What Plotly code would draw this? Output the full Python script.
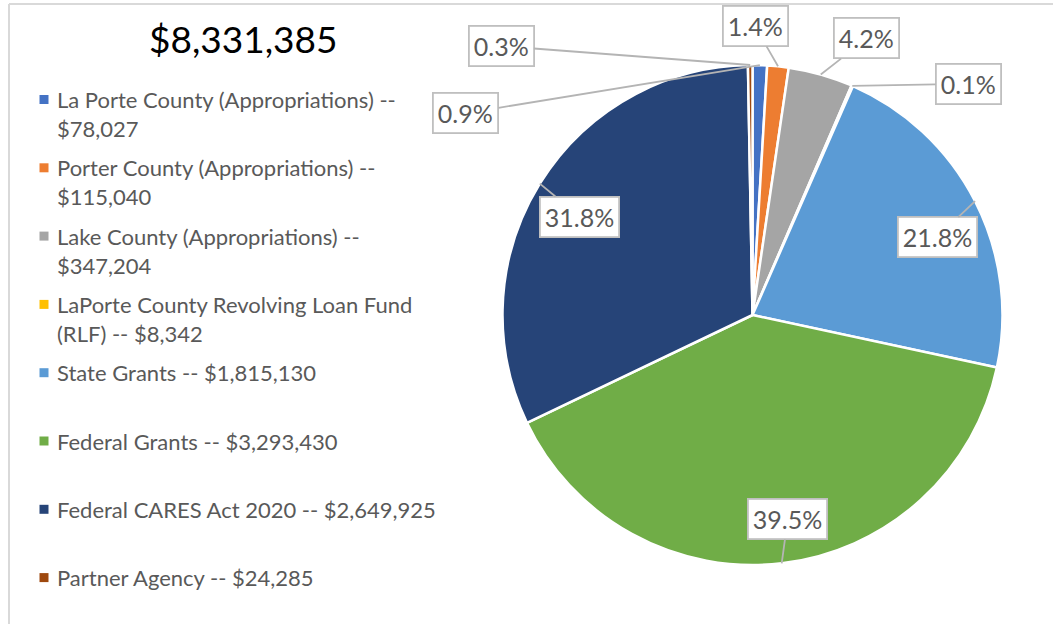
import math
import plotly.graph_objects as go

# ---------------- data ----------------
categories = [
    "La Porte County (Appropriations)",
    "Porter County (Appropriations)",
    "Lake County (Appropriations)",
    "LaPorte County Revolving Loan Fund (RLF)",
    "State Grants",
    "Federal Grants",
    "Federal CARES Act 2020",
    "Partner Agency",
]
values = [78027, 115040, 347204, 8342, 1815130, 3293430, 2649925, 24285]
legend_labels = [
    "La Porte County (Appropriations) --<br>$78,027",
    "Porter County (Appropriations) --<br>$115,040",
    "Lake County (Appropriations) --<br>$347,204",
    "LaPorte County Revolving Loan Fund<br>(RLF) -- $8,342",
    "State Grants -- $1,815,130",
    "Federal Grants -- $3,293,430",
    "Federal CARES Act 2020 -- $2,649,925",
    "Partner Agency -- $24,285",
]
title_text = "$8,331,385"

# ---------------- style ----------------
colors = ["#4472C4", "#ED7D31", "#A5A5A5", "#FFC000",
          "#5B9BD5", "#70AD47", "#264478", "#9E480E"]
# pixel offsets of each percentage box from its slice anchor point
label_offsets = [(-294, 48), (-23, -40), (46, -36), (116, -2),
                 (-38, 36), (6, -44), (40, 33), (-249, -19)]

W, H = 1053, 624
CX, CY, R = 752.5, 315.0, 250.0   # pie centre / radius in px
TXT = "#595959"
FONT = "Lato"

fig = go.Figure()
fig.add_trace(go.Pie(
    labels=categories,
    values=values,
    sort=False,
    direction="clockwise",
    rotation=0,
    marker=dict(colors=colors, line=dict(color="white", width=2.5)),
    textinfo="none",
    hoverinfo="label+value+percent",
    showlegend=False,
    domain=dict(x=[(CX - R) / W, (CX + R) / W],
                y=[1 - (CY + R) / H, 1 - (CY - R) / H]),
))

annotations = []
shapes = []

# percentage labels with leader lines
total = sum(values)
cum = 0.0
for v, (ax, ay) in zip(values, label_offsets):
    frac = v / total
    mid = (cum + frac / 2) * 2 * math.pi
    cum += frac
    px = CX + R * math.sin(mid)
    py = CY - R * math.cos(mid)
    annotations.append(dict(
        x=px / W, y=1 - py / H, xref="paper", yref="paper",
        text=f"{frac * 100:.1f}%",
        showarrow=True, arrowhead=0, arrowwidth=1.8, arrowcolor="#B4B4B4",
        standoff=0, ax=ax, ay=ay,
        font=dict(family=FONT, size=25, color=TXT),
        bgcolor="white", bordercolor="#BFBFBF", borderwidth=1.8, borderpad=4,
    ))

# title
annotations.append(dict(
    x=243 / W, y=1 - 38 / H, xref="paper", yref="paper",
    text=title_text, showarrow=False, xanchor="center", yanchor="middle",
    font=dict(family=FONT, size=37, color="black"),
))

# legend (custom, evenly spaced like the original)
LEG_TOP, LEG_PITCH = 99.5, 68.3
for i, (lab, col) in enumerate(zip(legend_labels, colors)):
    yc = LEG_TOP + i * LEG_PITCH
    shapes.append(dict(type="rect", xref="paper", yref="paper",
                       x0=39.5 / W, x1=48.5 / W,
                       y0=1 - (yc + 4.5) / H, y1=1 - (yc - 4.5) / H,
                       fillcolor=col, line=dict(width=0)))
    annotations.append(dict(
        x=56 / W, y=1 - (yc - 14.5) / H, xref="paper", yref="paper",
        text=lab, showarrow=False, xanchor="left", yanchor="top", align="left",
        font=dict(family=FONT, size=22, color=TXT), borderpad=0,
    ))

# chart-area border (top and left edges visible)
shapes.append(dict(type="line", xref="paper", yref="paper",
                   x0=9 / W, x1=1.0, y0=1 - 4 / H, y1=1 - 4 / H,
                   line=dict(color="#D9D9D9", width=2)))
shapes.append(dict(type="line", xref="paper", yref="paper",
                   x0=9 / W, x1=9 / W, y0=0, y1=1 - 4 / H,
                   line=dict(color="#D9D9D9", width=2)))

fig.update_layout(
    width=W, height=H,
    margin=dict(l=0, r=0, t=0, b=0),
    paper_bgcolor="white",
    plot_bgcolor="white",
    annotations=annotations,
    shapes=shapes,
    showlegend=False,
)

fig.write_html(
    "out.html",
    config={"displayModeBar": False},
    post_script="document.body.style.margin='0';document.body.style.overflow='hidden';",
)
